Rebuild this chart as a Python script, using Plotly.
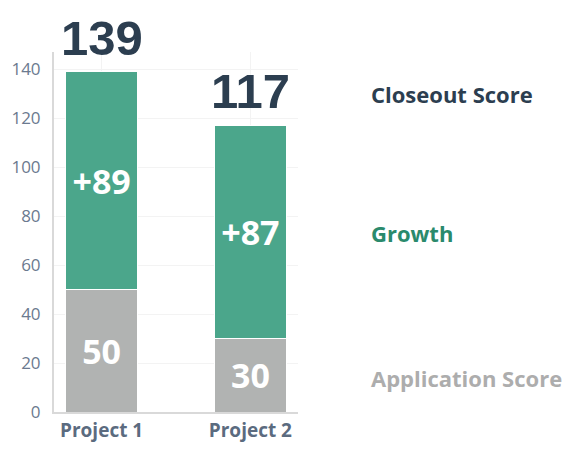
import plotly.graph_objects as go

projects = ["Project 1", "Project 2"]
application = [50, 30]
growth = [89, 87]
closeout = [a + g for a, g in zip(application, growth)]
growth_labels = ["+%d" % g for g in growth]
app_labels = [str(a) for a in application]
total_labels = [str(c) for c in closeout]

FONT = "Open Sans"
DARK = "#2c3e50"
GREEN = "#4ba68b"
GRAY = "#b1b3b2"

fig = go.Figure()
fig.add_trace(go.Bar(
    x=projects, y=application, name="Application Score",
    marker=dict(color=GRAY, line=dict(color="white", width=1)),
    text=app_labels, textposition="inside", insidetextanchor="middle",
    textfont=dict(family=FONT, size=34, color="white", weight="bold"),
    width=0.48,
))
fig.add_trace(go.Bar(
    x=projects, y=growth, name="Growth",
    marker=dict(color=GREEN, line=dict(color="white", width=1)),
    text=growth_labels, textposition="inside", insidetextanchor="middle",
    textfont=dict(family=FONT, size=34, color="white", weight="bold"),
    width=0.48,
))

for p, c, t in zip(projects, closeout, total_labels):
    fig.add_annotation(x=p, y=c, text=t, showarrow=False, yanchor="bottom",
                       xref="x", yref="y", yshift=5,
                       font=dict(family="Liberation Sans", size=49, color=DARK, weight="bold"))

legend_items = [("Closeout Score", DARK, 0.883),
                ("Growth", "#2a8a6c", 0.497),
                ("Application Score", "#adadad", 0.094)]
for txt, col, yy in legend_items:
    fig.add_annotation(x=1.29, y=yy, xref="paper", yref="paper", text=txt,
                       showarrow=False, xanchor="left", yanchor="middle",
                       font=dict(family=FONT, size=22, color=col, weight="bold"))

fig.update_layout(
    barmode="stack",
    width=576, height=459,
    margin=dict(l=46, r=286, t=44, b=55),
    paper_bgcolor="white", plot_bgcolor="white",
    showlegend=False,
    font=dict(family=FONT),
    uniformtext=dict(mode=False),
)
fig.update_xaxes(
    range=[-0.32, 1.32], showgrid=True, gridcolor="#f3f3f3",
    showline=True, linecolor="#d9d9d9", linewidth=2, ticks="",
    automargin=False,
    tickfont=dict(family=FONT, size=19, color="#5b6b7f", weight="bold"),
)
fig.update_yaxes(
    range=[0, 147], dtick=20, showgrid=True, gridcolor="#f3f3f3",
    showline=True, linecolor="#d9d9d9", linewidth=2, zeroline=False,
    automargin=False,
    tickfont=dict(family=FONT, size=17, color="#6b7a8f"),
    ticks="", ticklabelstandoff=8,
)

fig.write_html("out.html")
